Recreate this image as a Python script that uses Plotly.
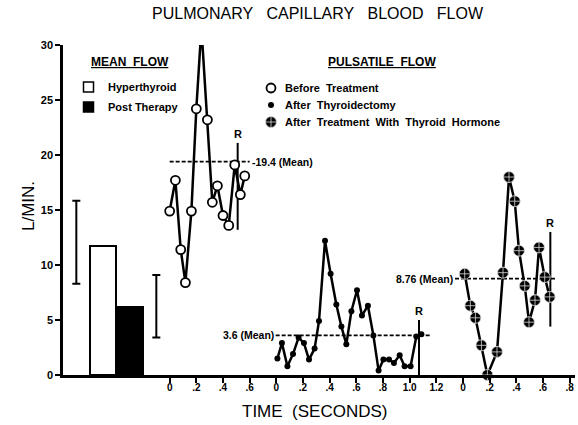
import plotly.graph_objects as go

# ---------------- data ----------------
mean_groups = ["Hyperthyroid", "Post Therapy"]
mean_flow = [11.75, 6.2]
mean_low = [8.3, 3.4]
mean_high = [15.85, 9.1]
mean_pos = [-0.5, -0.3]        # bar centres on the shared time axis
sd_pos = [-0.7, -0.1]          # where the range bars are drawn

before_t = [0.0, 0.043, 0.083, 0.118, 0.163, 0.200, 0.238, 0.283, 0.320,
            0.358, 0.400, 0.443, 0.488, 0.530, 0.563]
before_v = [14.9, 17.7, 11.4, 8.4, 14.9, 24.2, 31.6, 23.2, 15.7,
            17.2, 14.5, 13.6, 19.1, 16.4, 18.1]

thyroidect_t = [0.008, 0.042, 0.083, 0.125, 0.167, 0.207, 0.245, 0.287, 0.320,
                0.365, 0.407, 0.450, 0.488, 0.525, 0.563, 0.605, 0.642, 0.687,
                0.728, 0.767, 0.803, 0.845, 0.882, 0.925, 0.962, 1.007, 1.050, 1.088]
thyroidect_v = [1.5, 2.9, 0.8, 1.9, 3.4, 2.9, 1.4, 2.4, 4.9,
                12.2, 9.2, 6.4, 4.4, 2.8, 5.8, 7.7, 5.4, 6.3,
                3.6, 0.4, 1.4, 1.4, 1.1, 1.8, 0.8, 0.8, 3.5, 3.7]

hormone_t = [0.013, 0.055, 0.093, 0.138, 0.183, 0.255, 0.300, 0.345, 0.388,
             0.420, 0.463, 0.495, 0.540, 0.570, 0.613, 0.650]
hormone_v = [9.2, 6.3, 5.2, 2.7, 0.0, 2.1, 9.3, 18.0, 15.8,
             11.3, 8.1, 4.8, 6.8, 11.6, 8.9, 7.1]

segment_offset = [0.0, 0.8, 2.2]
segment_ticks = [[0, 0.2, 0.4, 0.6],
                 [0, 0.2, 0.4, 0.6, 0.8, 1.0, 1.2],
                 [0, 0.2, 0.4, 0.6, 0.8]]
segment_ticktext = [["0", ".2", ".4", ".6"],
                    ["0", ".2", ".4", ".6", ".8", "1.0", "1.2"],
                    ["0", ".2", ".4", ".6", ".8"]]

pulse_means = [19.4, 3.6, 8.76]
mean_labels = ["19.4 (Mean)", "3.6 (Mean)", "8.76 (Mean)"]
mean_span = [[0.0, 0.6], [-0.005, 1.155], [-0.06, 0.705]]

r_time = [0.51, 1.07, 0.655]
r_low = [13.2, 0.0, 4.4]
r_high = [21.1, 5.0, 13.0]

y_ticks = [0, 5, 10, 15, 20, 25, 30]

# ---------------- layout helpers ----------------
W, H = 578, 425
L, R, T, B = 63, 3, 45, 50
FONT = "Liberation Sans"


def px(X):
    return (X - L) / (W - L - R)


def py(Y):
    return (H - B - Y) / (H - T - B)


fig = go.Figure()

# mean flow bars
bar_fill = ["white", "black"]
for i in range(2):
    fig.add_trace(go.Bar(
        x=[mean_pos[i]], y=[mean_flow[i]], width=0.2,
        marker=dict(color=bar_fill[i], line=dict(color="black", width=2)),
        showlegend=False, hoverinfo="skip"))
    fig.add_trace(go.Scatter(
        x=[sd_pos[i]], y=[(mean_low[i] + mean_high[i]) / 2], mode="markers",
        marker=dict(size=1, color="rgba(0,0,0,0)"),
        error_y=dict(type="data", symmetric=True,
                     array=[(mean_high[i] - mean_low[i]) / 2],
                     color="black", thickness=2, width=4),
        showlegend=False, hoverinfo="skip"))

# pulsatile series
series = [
    (before_t, before_v, dict(symbol="circle", size=9, color="white",
                              line=dict(color="black", width=1.8))),
    (thyroidect_t, thyroidect_v, dict(symbol="circle", size=6, color="black")),
    (hormone_t, hormone_v, dict(symbol="circle-cross", size=11, color="black",
                                line=dict(color="#dddddd", width=0.8))),
]
for k, (t, v, mk) in enumerate(series):
    off = segment_offset[k]
    fig.add_trace(go.Scatter(
        x=[off + mean_span[k][0], off + mean_span[k][1]],
        y=[pulse_means[k]] * 2, mode="lines",
        line=dict(color="black", width=1.6, dash="4px,2px"),
        showlegend=False, hoverinfo="skip", cliponaxis=False))
    fig.add_trace(go.Scatter(
        x=[off + r_time[k]] * 2, y=[r_low[k], r_high[k]], mode="lines",
        line=dict(color="black", width=2),
        showlegend=False, hoverinfo="skip", cliponaxis=False))
    fig.add_annotation(x=off + r_time[k], y=r_high[k], text="R",
                       showarrow=False, xanchor="center", yanchor="bottom", yshift=1,
                       font=dict(family=FONT, size=11, color="black", weight="bold"))
    fig.add_trace(go.Scatter(
        x=[off + ti for ti in t], y=v, mode="lines+markers",
        line=dict(color="black", width=2.5), marker=mk,
        showlegend=False, cliponaxis=False))

# mean labels
lab_font = dict(family=FONT, size=10.5, color="black", weight="bold")
fig.add_annotation(x=segment_offset[0] + mean_span[0][1], y=pulse_means[0],
                   text="-" + mean_labels[0], showarrow=False, xanchor="left",
                   yanchor="middle", font=lab_font)
fig.add_annotation(x=segment_offset[1] + mean_span[1][0], y=pulse_means[1],
                   text=mean_labels[1], showarrow=False, xanchor="right",
                   yanchor="middle", font=lab_font)
fig.add_annotation(x=segment_offset[2] + mean_span[2][0], y=pulse_means[2],
                   text=mean_labels[2], showarrow=False, xanchor="right",
                   yanchor="middle", font=lab_font)

# legend keys drawn on an overlay paper-like axis
leg_font = dict(family=FONT, size=11, color="black", weight="bold")
fig.add_trace(go.Scatter(
    x=[px(88.5), px(88.5)], y=[py(87), py(107)], xaxis="x2", yaxis="y2",
    mode="markers", marker=dict(symbol="square", size=10, color=bar_fill,
                                line=dict(color="black", width=1.5)),
    showlegend=False, hoverinfo="skip", cliponaxis=False))
for k, (t, v, mk) in enumerate(series):
    fig.add_trace(go.Scatter(
        x=[px(271)], y=[py(88 + 17 * k)], xaxis="x2", yaxis="y2",
        mode="markers", marker=mk, showlegend=False, hoverinfo="skip",
        cliponaxis=False))

for j, name in enumerate(mean_groups):
    fig.add_annotation(xref="paper", yref="paper", x=px(106), y=py(87 + 20 * j),
                       text=name, showarrow=False, xanchor="left", yanchor="middle",
                       font=leg_font)
pulse_names = ["Before  Treatment", "After  Thyroidectomy",
               "After  Treatment  With  Thyroid  Hormone"]
for k, name in enumerate(pulse_names):
    fig.add_annotation(xref="paper", yref="paper", x=px(283), y=py(88 + 17 * k),
                       text=name, showarrow=False, xanchor="left", yanchor="middle",
                       font=leg_font)

hdr_font = dict(family=FONT, size=12, color="black", weight="bold", lineposition="under")
fig.add_annotation(xref="paper", yref="paper", x=px(130), y=py(62), text="MEAN  FLOW",
                   showarrow=False, xanchor="center", yanchor="middle", font=hdr_font)
fig.add_annotation(xref="paper", yref="paper", x=px(382), y=py(62), text="PULSATILE  FLOW",
                   showarrow=False, xanchor="center", yanchor="middle", font=hdr_font)

# titles
fig.add_annotation(xref="paper", yref="paper", x=px(318), y=py(14),
                   text="PULMONARY\u00a0\u00a0 CAPILLARY\u00a0\u00a0 BLOOD\u00a0\u00a0 FLOW",
                   showarrow=False, xanchor="center", yanchor="middle",
                   font=dict(family=FONT, size=16, color="black"))
fig.add_annotation(xref="paper", yref="paper", x=px(314), y=py(411),
                   text="TIME\u00a0 (SECONDS)", showarrow=False,
                   xanchor="center", yanchor="middle",
                   font=dict(family=FONT, size=17, color="black"))
fig.add_annotation(xref="paper", yref="paper", x=px(28), y=py(206),
                   text="L/MIN.", showarrow=False, textangle=-90,
                   xanchor="center", yanchor="middle",
                   font=dict(family=FONT, size=17, color="black"))

tickvals, ticktext = [], []
for k in range(3):
    for tv, tt in zip(segment_ticks[k], segment_ticktext[k]):
        tickvals.append(segment_offset[k] + tv)
        ticktext.append(tt)

tick_font = dict(family=FONT, size=10, color="black", weight="bold")
fig.update_layout(
    width=W, height=H, margin=dict(l=L, r=R, t=T, b=B, autoexpand=False),
    paper_bgcolor="white", plot_bgcolor="white", showlegend=False,
    bargap=0,
    xaxis=dict(range=[-0.8, 3.04], showline=True, linecolor="black", linewidth=2.5,
               tickvals=tickvals, ticktext=ticktext, ticks="outside", ticklen=5,
               tickwidth=2, tickcolor="black", tickfont=tick_font,
               ticklabelstandoff=-4, automargin=False,
               showgrid=False, zeroline=False),
    yaxis=dict(range=[0, 30], showline=True, linecolor="black", linewidth=2.5,
               tickvals=y_ticks, ticks="outside", ticklen=5, tickwidth=2,
               tickcolor="black", automargin=False,
               tickfont=dict(family=FONT, size=11, color="black", weight="bold"),
               showgrid=False, zeroline=False),
    xaxis2=dict(overlaying="x", range=[0, 1], visible=False),
    yaxis2=dict(overlaying="y", range=[0, 1], visible=False),
)

fig.write_html("out.html", config={"displayModeBar": False},
               post_script="document.body.style.margin='0';document.body.style.padding='0';")
